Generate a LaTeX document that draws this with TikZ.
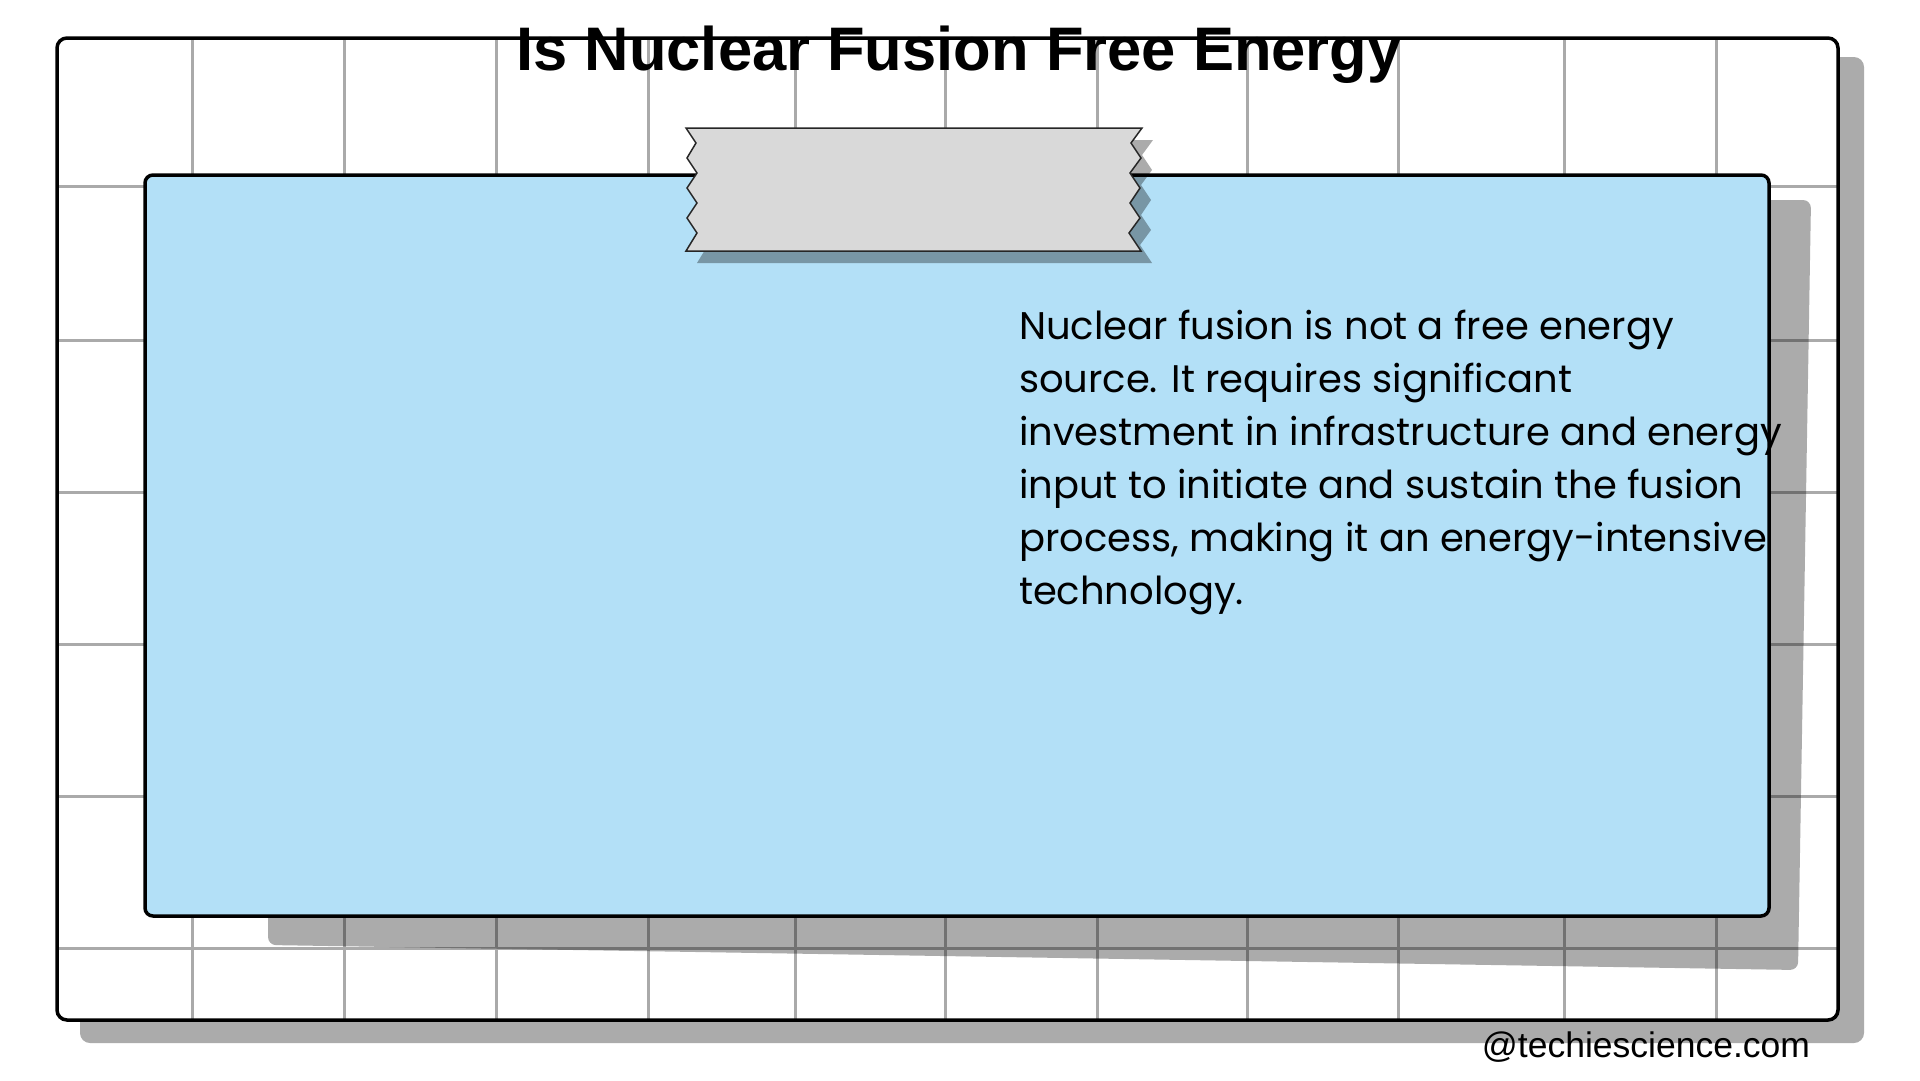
\documentclass[tikz,border=0pt]{standalone}
\usepackage{fontspec}
\setmainfont{Liberation Sans}
\newfontfamily\bodyfont{Poppins}
\usepackage{tikz}
\definecolor{cardblue}{HTML}{B3E0F7}
\definecolor{tapegray}{HTML}{D9D9D9}
\definecolor{gridgray}{HTML}{AAAAAA}
\newcommand{\tapeoutline}{(686,128) -- (1142,128) -- (1131,143) -- (1141,158) -- (1130,173) -- (1140,188)
  -- (1130,203) -- (1140,218) -- (1129,233) -- (1141,251) -- (686,251) -- (697,233) -- (687,218)
  -- (697,203) -- (687,188) -- (697,173) -- (687,158) -- (696,143) -- cycle}
\tikzstyle{shadow}=[fill=black, fill opacity=0.33, draw=none]
\tikzstyle{frame}=[draw=black, line width=3.5pt, rounded corners=10pt]
\tikzstyle{gridline}=[draw=gridgray, line width=3pt]
\tikzstyle{card}=[fill=cardblue, draw=black, line width=3.5pt, rounded corners=8pt]
\tikzstyle{tape}=[fill=tapegray, draw=black!85, line width=1.5pt, line join=miter]
\tikzstyle{sheet}=[x=1pt, y=-1pt,
                   % Text nodes sit on their baselines.
                   every node/.style={inner sep=0, outer sep=0}]

\begin{document}
\begin{tikzpicture}[sheet]
    \useasboundingbox (0,0) rectangle (1920,1080);
    % Page with its grid.
    \fill[shadow, rounded corners=10pt] (80,57) rectangle (1864,1043);
    \fill[white, rounded corners=10pt] (57,38) rectangle (1838,1020);
    \foreach \gx in {192,344,496,648,795,945,1097,1247,1398,1564,1716}
        \draw[gridline] (\gx,38) -- (\gx,1020);
    \foreach \gy in {186,340,492,644,796,948}
        \draw[gridline] (57,\gy) -- (1838,\gy);
    \draw[frame] (57,38) rectangle (1838,1020);
    % Card and tape.
    \fill[shadow, rounded corners=8pt] (268,200) -- (1811,200) -- (1798,970) -- (268,945) -- cycle;
    \draw[card] (145,175) rectangle (1769,916);
    \begin{scope}[shift={(11,12)}]
        \path[shadow] \tapeoutline;
    \end{scope}
    \path[tape] \tapeoutline;
    % Texts.
    \node[anchor=base, font=\bfseries\fontsize{61.5}{70}\selectfont] (title) at (959,70)
        {Is Nuclear Fusion Free Energy};
    \node[anchor=base west, align=left, font=\bodyfont\fontsize{38.5}{53}\selectfont] (body) at (1019,604)
        {Nuclear fusion is not a free energy\\
         source. It requires significant\\
         investment in infrastructure and energy\\
         input to initiate and sustain the fusion\\
         process, making it an energy-intensive\\
         technology.};
    \node[anchor=base east, font=\fontsize{35.5}{40}\selectfont] (credit) at (1810,1057)
        {@techiescience.com};
\end{tikzpicture}
\end{document}
